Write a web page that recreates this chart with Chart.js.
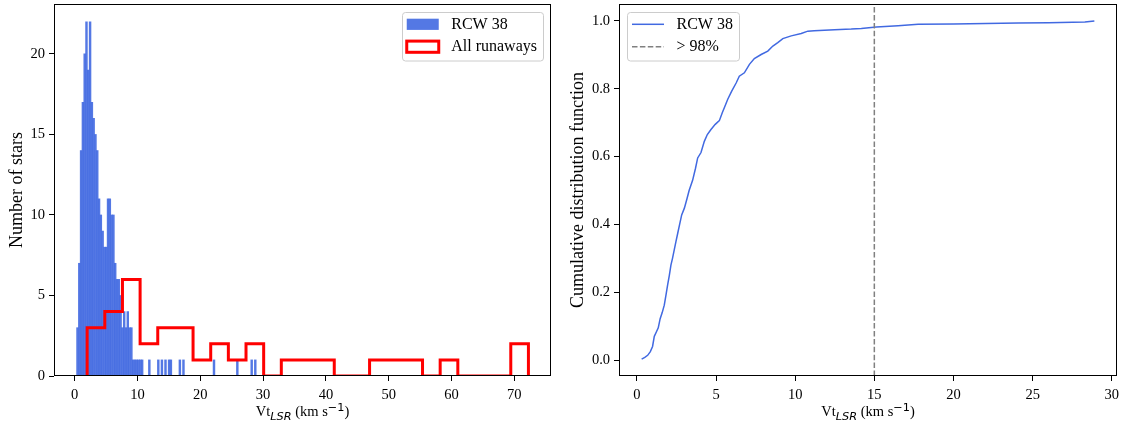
<!DOCTYPE html>
<html><head><meta charset="utf-8">
<script src="https://cdn.jsdelivr.net/npm/chart.js@4.4.1/dist/chart.umd.min.js"></script>
<style>
html,body{margin:0;padding:0;background:#fff;width:1123px;height:426px;overflow:hidden}
canvas{position:absolute;top:0}
#left{left:0}
#right{left:560px}
</style></head><body>
<canvas id="left" width="590" height="426"></canvas>
<canvas id="right" width="563" height="426"></canvas>
<script>
// ---------- data ----------
// RCW 38 histogram (100 bins)
const rcwBinStart = 0.30;
const rcwBinWidth = 0.286;
const rcwCounts = [
  3,7,14,17,20,22,19,22,17,16,
  15,14,11,10,9,8,8,11,11,10,
  10,7,6,6,5,3,4,3,4,3,
  3,1,1,1,1,1,1,0,0,0,
  1,0,0,0,0,1,0,1,0,1,
  0,1,1,0,0,0,0,1,0,1,
  0,0,0,0,0,0,0,0,0,0,
  0,0,0,0,0,0,1,0,0,0,
  0,0,0,0,0,0,0,0,0,1,
  0,0,0,0,0,0,0,1,0,1
];
// All runaways step histogram (25 bins)
const runawayBinStart = 1.98;
const runawayBinWidth = 2.811;
const runawayCounts = [3,4,6,2,3,3,1,2,1,2,0,1,1,1,0,0,1,1,1,0,1,0,0,0,2];
// cumulative distribution function
const cdfVelocity = [0.30,0.50,0.68,0.85,0.99,1.10,1.25,1.35,1.47,1.60,1.73,1.85,1.94,2.05,2.15,2.25,2.36,2.47,2.58,2.70,2.83,3.00,3.16,3.30,3.52,3.70,3.84,4.05,4.26,4.45,4.68,4.95,5.21,5.40,5.53,5.74,5.99,6.27,6.47,6.79,7.11,7.42,7.85,8.27,8.59,8.90,9.22,9.75,10.38,10.80,11.20,12.49,13.54,14.18,15.13,16.50,17.77,20.00,24.10,26.00,28.30,28.90];
const cdfValue    = [0.003,0.008,0.014,0.025,0.040,0.070,0.085,0.095,0.122,0.140,0.162,0.195,0.221,0.250,0.280,0.300,0.325,0.350,0.374,0.400,0.428,0.448,0.475,0.500,0.530,0.565,0.596,0.612,0.645,0.665,0.680,0.695,0.706,0.730,0.745,0.769,0.793,0.817,0.837,0.847,0.872,0.889,0.901,0.911,0.926,0.936,0.948,0.956,0.963,0.970,0.971,0.974,0.976,0.978,0.982,0.986,0.990,0.991,0.994,0.995,0.997,1.000];
const threshold98 = 15;
// tick labels
const leftXTicks = [0,10,20,30,40,50,60,70];
const leftYTicks = [0,5,10,15,20];
const rightXTicks = [0,5,10,15,20,25,30];
const rightYTicks = [0,0.2,0.4,0.6,0.8,1.0];
// labels
const rcwLabel = 'RCW 38';
const runawayLabel = 'All runaways';
const thresholdLabel = '> 98%';
const leftYTitle = 'Number of stars';
const rightYTitle = 'Cumulative distribution function';

// ---------- style ----------
const SERIF = '"Liberation Serif","Times New Roman",serif';
const FS = 14.5;      // tick labels
const FS_LEG = 16;    // legend
const FS_YT = 18;     // y titles
const BLUE_FILL = 'rgba(65,105,225,0.9)';
const BLUE = '#4169E1';
const RED = '#ff0000';
const GREY = '#808080';
Chart.defaults.font.family = SERIF;
Chart.defaults.font.size = FS;
Chart.defaults.color = '#000';

const rcwData = rcwCounts.map((c,i)=>({x: rcwBinStart + (i+0.5)*rcwBinWidth, y: c}));
const runawayData = [];
runawayCounts.forEach((c,i)=>{
  const a = runawayBinStart + i*runawayBinWidth, b = a + runawayBinWidth;
  if (i===0) runawayData.push({x:a, y:0});
  runawayData.push({x:a, y:c});
  runawayData.push({x:b, y:c});
  if (i===runawayCounts.length-1) runawayData.push({x:b, y:0});
});
const cdfData = cdfVelocity.map((v,i)=>({x:v, y:cdfValue[i]}));

const R_YMIN = -0.047, R_YMAX = 1.05;

function tickSet(arr){ return s => { s.ticks = arr.map(v=>({value:v})); }; }

function drawFrame(chart){
  const {ctx, chartArea:a} = chart;
  ctx.save();
  ctx.strokeStyle = '#000';
  ctx.lineWidth = 1;
  ctx.strokeRect(a.left+0.5, a.top+0.5, a.right-a.left-1, a.bottom-a.top-1);
  ctx.restore();
}

function drawXTitle(ctx, cx, baseline){
  const sub = FS*0.78;
  const parts = [
    {t:'Vt', f:`${FS}px ${SERIF}`, dy:0},
    {t:'LSR', f:`italic ${sub}px "DejaVu Sans"`, dy:3.5},
    {t:' (km s', f:`${FS}px ${SERIF}`, dy:0},
    {t:'\u22121', f:`${sub}px "DejaVu Sans"`, dy:-5.5},
    {t:')', f:`${FS}px ${SERIF}`, dy:0}
  ];
  let w = 0;
  parts.forEach(p=>{ctx.font=p.f; p.w=ctx.measureText(p.t).width; w+=p.w;});
  let x = cx - w/2;
  ctx.textAlign='left'; ctx.textBaseline='alphabetic'; ctx.fillStyle='#000';
  parts.forEach(p=>{ctx.font=p.f; ctx.fillText(p.t, x, baseline+p.dy); x+=p.w;});
}

function drawYTitle(ctx, text, cx, cy){
  ctx.save();
  ctx.translate(cx, cy);
  ctx.rotate(-Math.PI/2);
  ctx.font = `${FS_YT}px ${SERIF}`;
  ctx.textAlign='center'; ctx.textBaseline='middle'; ctx.fillStyle='#000';
  ctx.fillText(text, 0, 0);
  ctx.restore();
}

function drawLegend(ctx, items, corner, area){
  const f = FS_LEG, padL = 5, padR = 6, handle = 32, gap = 12.5, rowStep = 22.4, axpad = 8;
  ctx.font = `${f}px ${SERIF}`;
  const tw = Math.max(...items.map(it=>ctx.measureText(it.label).width));
  const W = padL + handle + gap + tw + padR;
  const H = 48.5;
  const top = area.top + axpad;
  const left = corner==='right' ? area.right - axpad - W : area.left + axpad;
  ctx.save();
  ctx.beginPath();
  ctx.roundRect(Math.round(left)+0.5, Math.round(top)+0.5, Math.round(W), H, 3);
  ctx.fillStyle='rgba(255,255,255,0.8)'; ctx.fill();
  ctx.strokeStyle='#cccccc'; ctx.lineWidth=1; ctx.stroke();
  items.forEach((it,i)=>{
    const cy = top + 12.3 + i*rowStep;
    const hx = left + padL;
    if (it.kind==='fill'){
      ctx.fillStyle=it.color; ctx.fillRect(hx, cy-0.35*f, handle, 0.7*f);
    } else if (it.kind==='edge'){
      ctx.strokeStyle=it.color; ctx.lineWidth=3; ctx.lineJoin='miter';
      ctx.strokeRect(hx, cy-0.35*f, handle, 0.7*f);
    } else {
      ctx.strokeStyle=it.color; ctx.lineWidth=1.5;
      ctx.setLineDash(it.kind==='dash'?[5.5,2.4]:[]);
      ctx.beginPath(); ctx.moveTo(hx, cy); ctx.lineTo(hx+handle, cy); ctx.stroke();
      ctx.setLineDash([]);
    }
    ctx.fillStyle='#000'; ctx.textAlign='left'; ctx.textBaseline='middle';
    ctx.font = `${f}px ${SERIF}`;
    ctx.fillText(it.label, hx+handle+gap, cy+0.5);
  });
  ctx.restore();
}

const axisCommon = {
  grid:{display:true, drawOnChartArea:false, drawTicks:true, tickLength:5, tickWidth:1, tickColor:'#000', offset:false},
  border:{display:false}
};
function fitY(w){ return s=>{ s.width=w; s.paddingTop=0; s.paddingBottom=0; }; }
function fitX(h){ return s=>{ s.height=h; s.paddingLeft=0; s.paddingRight=0; }; }

// ---------- left chart ----------
new Chart(document.getElementById('left'), {
  type:'bar',
  data:{datasets:[
    {type:'line', label:runawayLabel, data:runawayData, borderColor:RED, borderWidth:3, pointRadius:0, fill:false, tension:0, borderJoinStyle:'miter', order:0},
    {type:'bar', label:rcwLabel, data:rcwData, backgroundColor:BLUE_FILL, borderWidth:0, barPercentage:1, categoryPercentage:1, order:1}
  ]},
  options:{
    responsive:false, devicePixelRatio:1, animation:false,
    layout:{padding:{left:0, top:4, right:39, bottom:0}},
    plugins:{legend:{display:false}, tooltip:{enabled:false}},
    scales:{
      x:{type:'linear', min:-3.3, max:75.85, offset:false, ...axisCommon,
         afterBuildTicks:tickSet(leftXTicks), afterFit:fitX(50),
         ticks:{padding:5, maxRotation:0, autoSkip:false, color:'#000'}},
      y:{type:'linear', min:0, max:23.1, ...axisCommon,
         afterBuildTicks:tickSet(leftYTicks), afterFit:fitY(54),
         ticks:{padding:4, color:'#000'}}
    }
  },
  plugins:[{id:'decorL', afterDraw(chart){
    const ctx = chart.ctx, a = chart.chartArea;
    drawFrame(chart);
    drawYTitle(ctx, leftYTitle, 17.5, (a.top+a.bottom)/2);
    drawXTitle(ctx, (a.left+a.right)/2, 416);
    const ds = chart.data.datasets;
    drawLegend(ctx, [{label:ds[1].label, kind:'fill', color:BLUE_FILL},{label:ds[0].label, kind:'edge', color:RED}], 'right', a);
  }}]
});

// ---------- right chart ----------
new Chart(document.getElementById('right'), {
  type:'line',
  data:{datasets:[
    {label:rcwLabel, data:cdfData, borderColor:BLUE, borderWidth:1.5, pointRadius:0, fill:false, tension:0, order:1},
    {label:thresholdLabel, data:[{x:threshold98, y:R_YMIN},{x:threshold98, y:R_YMAX}], borderColor:GREY, borderWidth:1.5, borderDash:[5.5,2.4], pointRadius:0, fill:false, order:0}
  ]},
  options:{
    responsive:false, devicePixelRatio:1, animation:false,
    layout:{padding:{left:0, top:4, right:6, bottom:0}},
    plugins:{legend:{display:false}, tooltip:{enabled:false}},
    scales:{
      x:{type:'linear', min:-1.13, max:30.33, offset:false, ...axisCommon,
         afterBuildTicks:tickSet(rightXTicks), afterFit:fitX(50),
         ticks:{padding:5, maxRotation:0, autoSkip:false, color:'#000'}},
      y:{type:'linear', min:R_YMIN, max:R_YMAX, ...axisCommon,
         afterBuildTicks:tickSet(rightYTicks), afterFit:fitY(59),
         ticks:{padding:4, color:'#000', callback:v=>Number(v).toFixed(1)}}
    }
  },
  plugins:[{id:'decorR', afterDraw(chart){
    const ctx = chart.ctx, a = chart.chartArea;
    drawFrame(chart);
    drawYTitle(ctx, rightYTitle, 18, (a.top+a.bottom)/2);
    drawXTitle(ctx, (a.left+a.right)/2, 416);
    const ds = chart.data.datasets;
    drawLegend(ctx, [{label:ds[0].label, kind:'line', color:BLUE},{label:ds[1].label, kind:'dash', color:GREY}], 'left', a);
  }}]
});
</script>
</body></html>
